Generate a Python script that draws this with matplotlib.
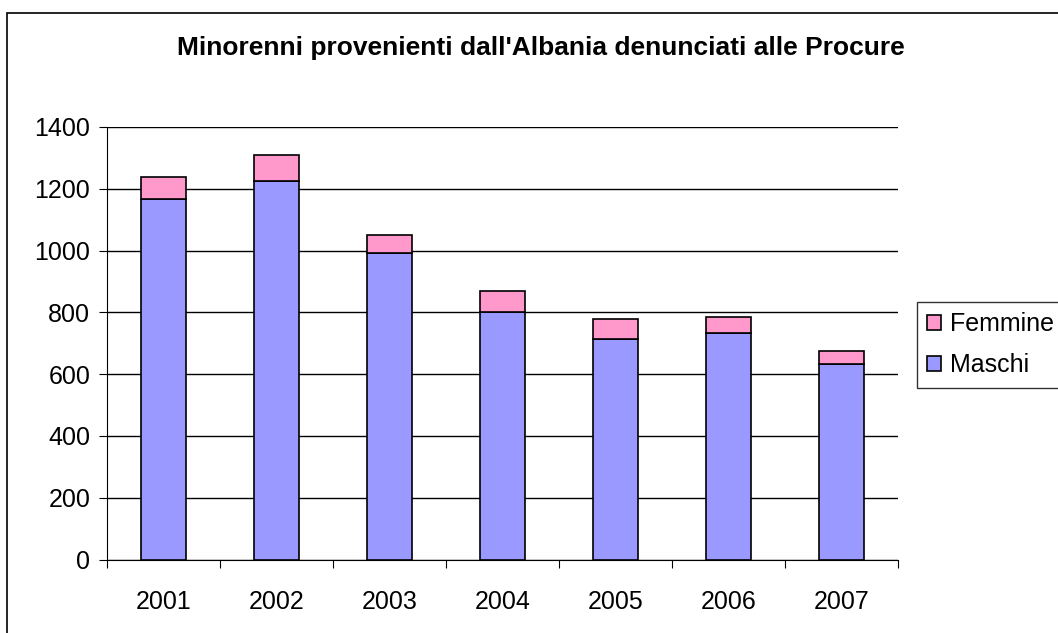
import matplotlib.pyplot as plt
from matplotlib.patches import Rectangle

plt.rcParams['font.family'] = ['Liberation Sans', 'DejaVu Sans']

anni = ['2001', '2002', '2003', '2004', '2005', '2006', '2007']
maschi = [1166, 1224, 991, 802, 713, 732, 634]
femmine = [71, 86, 58, 67, 65, 52, 41]

W, H = 1058, 633
fig = plt.figure(figsize=(W / 100, H / 100), dpi=100)
ax = fig.add_axes([107 / W, 1 - 559.5 / H, (898 - 107) / W, (559.5 - 127) / H])

x = range(len(anni))
ax.bar(x, maschi, width=0.4, color='#9999ff', edgecolor='black', linewidth=1.2,
       label='Maschi', zorder=3)
ax.bar(x, femmine, width=0.4, bottom=maschi, color='#ff99cc', edgecolor='black',
       linewidth=1.2, label='Femmine', zorder=3)

ax.set_xlim(-0.5, len(anni) - 0.5)
ax.set_ylim(0, 1400)
ax.set_yticks(range(0, 1401, 200))
ax.yaxis.grid(True, color='black', linewidth=1)
ax.set_axisbelow(True)

# tick marks between categories, labels in the middle
ax.set_xticks([i - 0.5 for i in range(len(anni) + 1)])
ax.set_xticklabels([])
ax.set_xticks(list(x), minor=True)
ax.set_xticklabels(anni, minor=True)
ax.tick_params(axis='x', which='minor', length=0, pad=22, labelsize=18)
ax.tick_params(axis='x', which='major', length=6, direction='out')
ax.tick_params(axis='y', length=6, direction='out', labelsize=18, pad=6)

for s in ['top', 'right']:
    ax.spines[s].set_visible(False)

fig.text(541 / W, 1 - 48 / H, "Minorenni provenienti dall'Albania denunciati alle Procure",
         ha='center', va='center', fontsize=19, fontweight='bold')

handles, labels = ax.get_legend_handles_labels()
leg = fig.legend(handles[::-1], labels[::-1], loc='upper left',
                 bbox_to_anchor=(917 / W, 1 - 302 / H), fontsize=18,
                 frameon=True, fancybox=False, edgecolor='black',
                 handlelength=0.56, handleheight=0.56, handletextpad=0.35,
                 borderpad=0.4, labelspacing=0.7, borderaxespad=0)
leg.get_frame().set_linewidth(1)

fig.patches.append(Rectangle((7 / W, -0.1), 1.2, 1 - 13 / H + 0.1, transform=fig.transFigure,
                             fill=False, edgecolor='black', linewidth=1.2))

fig.savefig('out.png', dpi=100)
